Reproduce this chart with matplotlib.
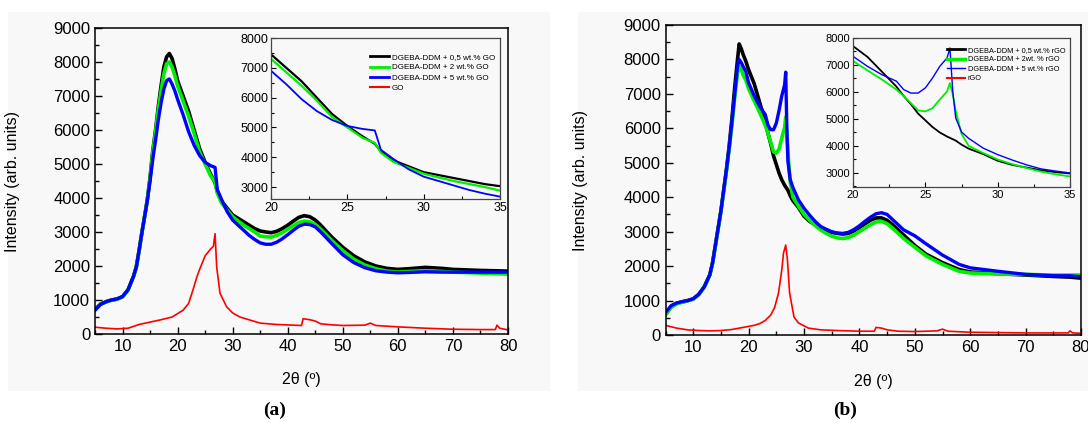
import matplotlib.pyplot as plt
from matplotlib.lines import Line2D
from matplotlib.patches import Rectangle
from matplotlib.ticker import MultipleLocator

plt.rcParams['font.family'] = ['Liberation Sans', 'DejaVu Sans']

# ---- panel (a): GO composites ----
a_tt = [5, 6, 7, 8, 9, 10, 11, 12, 12.5, 13, 13.5, 14, 14.5, 15, 15.5, 16, 16.5, 17, 17.5, 18,
        18.5, 19, 19.5, 20, 21, 22, 23, 24, 25, 26, 26.8, 27.2, 28, 29, 30, 31, 32, 33, 34, 35,
        36, 37, 38, 39, 40, 41, 42, 43, 44, 45, 46, 47, 48, 50, 52, 54, 56, 58, 60, 62,
        65, 68, 70, 75, 80]
a_go05 = [720, 880, 950, 1000, 1030, 1100, 1300, 1700, 1970, 2450, 2970, 3450, 3950, 4600, 5400, 6000, 6700, 7300, 7850, 8150,
          8250, 8100, 7800, 7450, 7000, 6550, 6000, 5450, 5050, 4700, 4450, 4200, 3900, 3700, 3500, 3400, 3300, 3200, 3100, 3030,
          3000, 2980, 3020, 3100, 3200, 3320, 3430, 3480, 3450, 3350, 3200, 3020, 2850, 2550, 2300, 2120, 2000, 1930, 1900, 1920,
          1960, 1930, 1900, 1870, 1850]
a_go2 = [700, 870, 940, 990, 1020, 1090, 1290, 1690, 1960, 2440, 2960, 3440, 3940, 4580, 5350, 5950, 6600, 7150, 7650, 7950,
         8000, 7850, 7600, 7300, 6850, 6400, 5900, 5350, 5000, 4650, 4480, 4150, 3850, 3650, 3450, 3320, 3200, 3100, 3000, 2880,
         2860, 2850, 2900, 2980, 3080, 3180, 3280, 3320, 3300, 3220, 3080, 2920, 2750, 2450, 2200, 2030, 1920, 1850, 1820, 1840,
         1860, 1840, 1820, 1790, 1760]
a_go5 = [700, 870, 950, 1000, 1030, 1100, 1300, 1700, 1970, 2450, 2960, 3440, 3920, 4500, 5150, 5700, 6300, 6800, 7200, 7450,
         7500, 7350, 7150, 6900, 6450, 5950, 5550, 5250, 5050, 4950, 4900, 4250, 3950, 3600, 3350, 3200, 3050, 2900, 2780, 2680,
         2640, 2640, 2700, 2800, 2920, 3050, 3170, 3230, 3220, 3150, 3000, 2830, 2660, 2330, 2100, 1950, 1860, 1820, 1800, 1810,
         1830, 1820, 1820, 1820, 1820]
go_tt = [5, 7, 9, 11, 13, 15, 17, 19, 20, 21, 22, 22.8, 23.5, 24, 25, 26, 26.5, 26.8, 27.1, 27.7,
         28.9, 30, 31.3, 35, 38, 42.5, 42.8, 44, 45, 46, 48, 50, 54, 55, 56, 60, 65, 70, 75, 77.7,
         78, 78.5, 80]
go_int = [200, 170, 150, 170, 280, 350, 420, 500, 600, 700, 900, 1300, 1680, 1900, 2300, 2500, 2580, 2950, 1970, 1200,
          800, 620, 500, 320, 280, 250, 450, 420, 380, 300, 270, 250, 260, 320, 250, 210, 170, 140, 130, 130,
          260, 170, 120]

# ---- panel (b): rGO composites ----
b_tt = [5, 6, 7, 8, 9, 10, 11, 12, 13, 13.5, 14, 14.5, 15, 15.5, 16, 16.5, 17, 17.5, 18, 18.3,
        18.7, 19, 19.5, 20, 21, 22, 23, 23.5, 24, 24.5, 25, 25.5, 26, 26.5, 26.7, 26.9, 27.1, 27.5, 28, 29,
        30, 31, 32, 33, 34, 35, 36, 37, 38, 39, 40, 41, 42, 43, 44, 45, 46, 47, 48, 50,
        52, 55, 58, 60, 65, 70, 75, 78, 80]
b_rgo05 = [600, 820, 920, 960, 1000, 1050, 1180, 1400, 1750, 2100, 2600, 3100, 3600, 4200, 4800, 5500, 6300, 7200, 8000, 8450,
           8300, 8150, 7950, 7700, 7300, 6750, 6200, 5850, 5550, 5200, 4950, 4700, 4500, 4350, 4300, 4250, 4200, 4050, 3900, 3700,
           3450, 3300, 3200, 3100, 3030, 2980, 2950, 2930, 2950, 3020, 3120, 3230, 3330, 3400, 3400, 3330, 3200, 3050, 2900, 2600,
           2350, 2100, 1900, 1830, 1780, 1740, 1700, 1680, 1650]
b_rgo2 = [580, 800, 900, 950, 990, 1040, 1170, 1390, 1740, 2080, 2580, 3080, 3580, 4150, 4750, 5400, 6100, 6900, 7600, 7800,
          7700, 7550, 7400, 7150, 6800, 6460, 6090, 5850, 5590, 5320, 5280, 5400, 5720, 6020, 6330, 5900, 5300, 4450, 4000, 3740,
          3500, 3330, 3180, 3050, 2950, 2870, 2820, 2800, 2830, 2900, 3000, 3100, 3200, 3280, 3300, 3230, 3100, 2950, 2800, 2550,
          2300, 2050, 1850, 1800, 1770, 1760, 1740, 1740, 1740]
b_rgo5 = [650, 850, 930, 970, 1000, 1050, 1180, 1400, 1750, 2100, 2600, 3100, 3600, 4200, 4800, 5450, 6200, 7000, 7800, 8000,
          7900, 7800, 7650, 7320, 6950, 6640, 6400, 6090, 5960, 5960, 6150, 6520, 6950, 7260, 7630, 6000, 5040, 4520, 4280, 3920,
          3680, 3480, 3300, 3150, 3070, 3000, 2960, 2950, 2980, 3060, 3170, 3300, 3420, 3520, 3550, 3500, 3350, 3200, 3050, 2880,
          2650, 2320, 2050, 1950, 1850, 1760, 1720, 1720, 1690]
rgo_tt = [5, 7, 9, 11, 13, 15, 17, 19, 21, 22, 23, 24, 24.7, 25.4, 26, 26.3, 26.7, 27, 27.4, 28.2,
          29, 30.8, 33, 36, 40, 42.7, 43, 44, 45, 47, 50, 54, 55, 56, 60, 65, 70, 75, 77.7, 78,
          78.5, 80]
rgo_int = [280, 200, 150, 130, 120, 130, 160, 220, 280, 330, 420, 580, 800, 1220, 1900, 2380, 2610, 2200, 1220, 520,
           350, 200, 150, 130, 110, 110, 220, 200, 150, 110, 100, 120, 170, 110, 80, 70, 60, 60, 60, 120,
           60, 50]

labels_a = ['DGEBA-DDM + 0,5 wt.% GO', 'DGEBA-DDM + 2 wt.% GO', 'DGEBA-DDM + 5 wt.% GO', 'GO']
labels_b = ['DGEBA-DDM + 0,5 wt.% rGO', 'DGEBA-DDM + 2wt. % rGO', 'DGEBA-DDM + 5 wt.% rGO', 'rGO']

BG = '#f8f8f8'
W, H = 1088, 423


def fbox(left, top, right, bottom):
    # pixel box -> figure fraction rect
    return [left / W, 1 - bottom / H, (right - left) / W, (bottom - top) / H]


def style_main(ax):
    ax.set_facecolor(BG)
    ax.set_xlim(5, 80)
    ax.set_ylim(0, 9000)
    ax.xaxis.set_major_locator(MultipleLocator(10))
    ax.xaxis.set_minor_locator(MultipleLocator(5))
    ax.yaxis.set_major_locator(MultipleLocator(1000))
    ax.yaxis.set_minor_locator(MultipleLocator(500))
    ax.tick_params(which='both', direction='in', labelsize=12, width=1)
    ax.tick_params(which='major', length=5)
    ax.tick_params(which='minor', length=3)
    for s in ax.spines.values():
        s.set_linewidth(1.1)
    ax.set_xlabel('2θ (º)', fontsize=11.5)
    ax.set_ylabel('Intensity (arb. units)', fontsize=11.5)


def style_inset(ax, ymin, size):
    ax.set_facecolor(BG)
    ax.set_xlim(20, 35)
    ax.set_ylim(ymin, 8000)
    ax.xaxis.set_major_locator(MultipleLocator(5))
    ax.xaxis.set_minor_locator(MultipleLocator(2.5))
    ax.yaxis.set_major_locator(MultipleLocator(1000))
    ax.yaxis.set_minor_locator(MultipleLocator(500))
    ax.tick_params(which='both', direction='in', labelsize=size, width=0.8, pad=2)
    ax.tick_params(which='major', length=3.5)
    ax.tick_params(which='minor', length=2)
    for s in ax.spines.values():
        s.set_linewidth(0.9)
        s.set_color('#444444')


fig = plt.figure(figsize=(W / 100, H / 100), dpi=100)
fig.patches.append(Rectangle((8 / W, 1 - 391 / H), 542 / W, 379 / H,
                             transform=fig.transFigure, facecolor=BG, edgecolor='none', zorder=-5))
fig.patches.append(Rectangle((578 / W, 1 - 391 / H), 510 / W, 379 / H,
                             transform=fig.transFigure, facecolor=BG, edgecolor='none', zorder=-5))

# panel (a)
ax1 = fig.add_axes(fbox(95, 28, 508, 334))
ax1.plot(a_tt, a_go05, color='black', lw=2.6)
ax1.plot(a_tt, a_go2, color='#00ee00', lw=2.6)
ax1.plot(a_tt, a_go5, color='#0000ff', lw=2.4)
ax1.plot(go_tt, go_int, color='red', lw=1.2)
style_main(ax1)
ax1.xaxis.set_label_coords(0.5, -0.125)
ax1.yaxis.set_label_coords(-0.182, 0.5)

in1 = fig.add_axes(fbox(271, 38, 500, 199))
in1.plot(a_tt, a_go05, color='black', lw=1.6)
in1.plot(a_tt, a_go2, color='#00ee00', lw=1.6)
in1.plot(a_tt, a_go5, color='#0000ff', lw=1.3)
style_inset(in1, 2600, 9)
h1 = [Line2D([], [], color='black', lw=2), Line2D([], [], color='#00ee00', lw=2),
      Line2D([], [], color='#0000ff', lw=2), Line2D([], [], color='red', lw=1.5)]
in1.legend(h1, labels_a, loc='upper right', bbox_to_anchor=(1.0, 0.935), frameon=False,
           fontsize=5.8, handlelength=2.3, handletextpad=0.4, labelspacing=0.35, borderaxespad=0.2)

# panel (b)
ax2 = fig.add_axes(fbox(665.5, 25, 1081, 335))
ax2.plot(b_tt, b_rgo05, color='black', lw=2.6)
ax2.plot(b_tt, b_rgo2, color='#00ee00', lw=2.6)
ax2.plot(b_tt, b_rgo5, color='#0000ff', lw=2.4)
ax2.plot(rgo_tt, rgo_int, color='red', lw=1.2)
style_main(ax2)
ax2.xaxis.set_label_coords(0.5, -0.125)
ax2.yaxis.set_label_coords(-0.187, 0.5)

in2 = fig.add_axes(fbox(853, 38, 1070, 187))
in2.plot(b_tt, b_rgo05, color='black', lw=1.3)
in2.plot(b_tt, b_rgo2, color='#00ee00', lw=1.3)
in2.plot(b_tt, b_rgo5, color='#0000ff', lw=1.0)
style_inset(in2, 2480, 8)
h2 = [Line2D([], [], color='black', lw=2), Line2D([], [], color='#00ee00', lw=2.5),
      Line2D([], [], color='#0000ff', lw=1), Line2D([], [], color='red', lw=1.5)]
in2.legend(h2, labels_b, loc='upper right', bbox_to_anchor=(1.0, 0.97), frameon=False,
           fontsize=5.3, handlelength=2.4, handletextpad=0.4, labelspacing=0.3, borderaxespad=0.2)

# panel letters
fig.text(275 / W, 1 - 410 / H, '(a)', ha='center', va='center', fontsize=14,
         fontweight='bold', family=['Liberation Serif', 'DejaVu Serif'])
fig.text(845 / W, 1 - 410 / H, '(b)', ha='center', va='center', fontsize=14,
         fontweight='bold', family=['Liberation Serif', 'DejaVu Serif'])

fig.savefig('out.png', dpi=100)
